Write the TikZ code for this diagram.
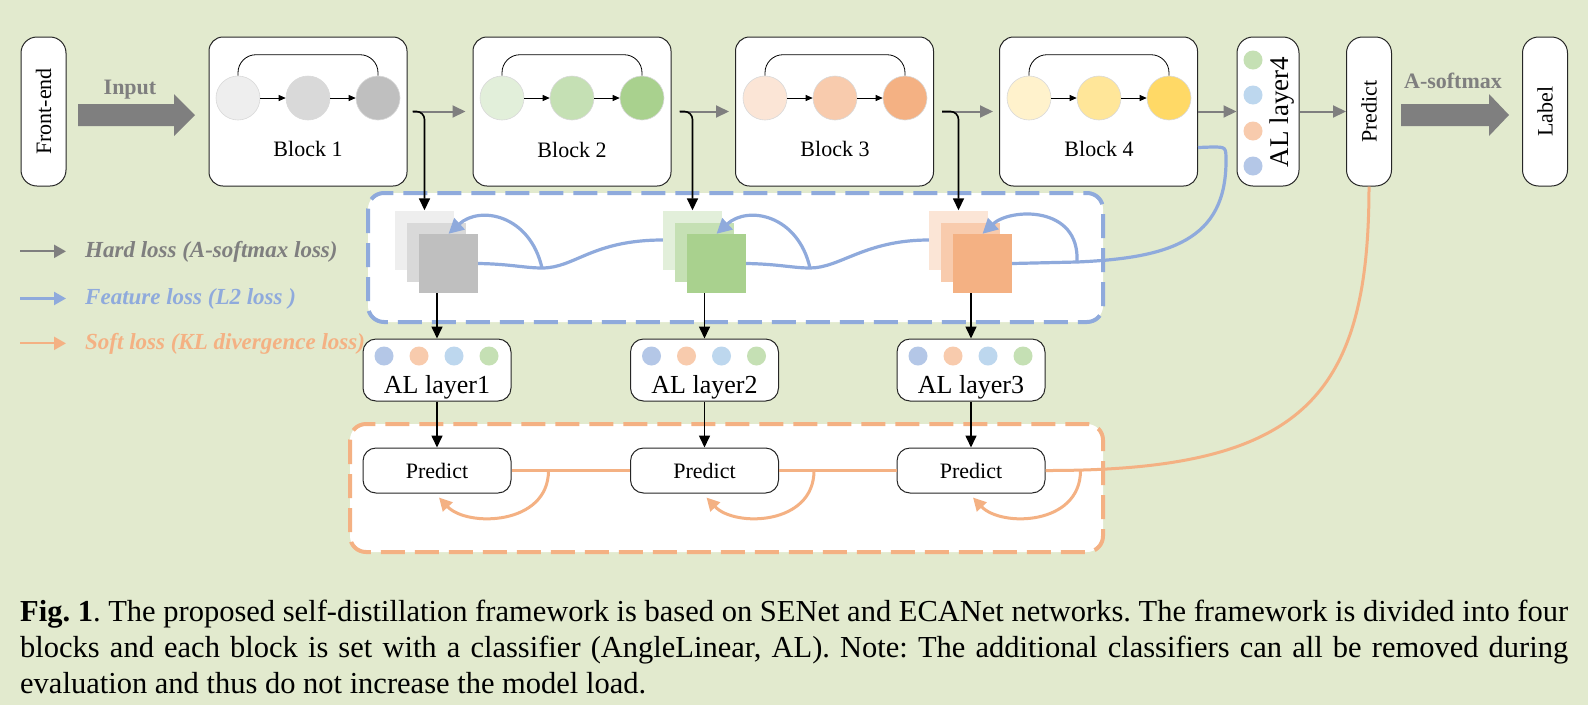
\documentclass[tikz,border=0pt]{standalone}
\usepackage{fontspec}
\usepackage{graphicx}
\setmainfont{Liberation Serif}
\usetikzlibrary{arrows.meta}

\definecolor{bggreen}{RGB}{226,234,206}
\definecolor{hardgrey}{RGB}{127,127,127}
\definecolor{featblue}{RGB}{143,170,220}
\definecolor{softorange}{RGB}{244,177,131}
\definecolor{greyA}{RGB}{238,238,238}
\definecolor{greyB}{RGB}{217,217,217}
\definecolor{greyC}{RGB}{191,191,191}
\definecolor{greenA}{RGB}{226,239,218}
\definecolor{greenB}{RGB}{197,224,180}
\definecolor{greenC}{RGB}{169,209,142}
\definecolor{orangeA}{RGB}{251,229,214}
\definecolor{orangeB}{RGB}{248,203,173}
\definecolor{orangeC}{RGB}{244,177,131}
\definecolor{goldA}{RGB}{255,242,204}
\definecolor{goldB}{RGB}{255,230,153}
\definecolor{goldC}{RGB}{255,217,102}
\definecolor{dotblue}{RGB}{180,199,231}
\definecolor{dotsky}{RGB}{189,215,238}

\begin{document}
\begin{tikzpicture}[x=1pt, y=-1pt,
		box/.style={draw=black!85, line width=1pt, fill=white, rounded corners=14pt, inner sep=0pt},
		blockbox/.style={box, minimum width=198pt, minimum height=149pt},
		tallbox/.style={box, rounded corners=16pt, minimum width=45pt, minimum height=149pt, font=\fontsize{22}{26}\selectfont},
		albox/.style={box, rounded corners=13pt, minimum width=148pt, minimum height=62pt},
		predbox/.style={box, rounded corners=13pt, minimum width=148pt, minimum height=45pt, font=\fontsize{22}{26}\selectfont},
		ball/.style={circle, draw=black!15, line width=0.6pt, minimum size=44pt, inner sep=0pt},
		aldot/.style={circle, minimum size=19pt, inner sep=0pt},
		feat/.style={minimum size=59pt, inner sep=0pt},
		txt/.style={font=\fontsize{22}{26}\selectfont, inner sep=0pt, anchor=base},
		bigtxt/.style={font=\fontsize{26}{30}\selectfont, inner sep=0pt, anchor=base},
		legtxt/.style={font=\fontsize{23}{27}\selectfont\bfseries\itshape, inner sep=0pt, anchor=base west},
		thinarr/.style={line width=0.8pt, -{Triangle[length=7pt,width=6pt]}},
		blackarr/.style={line width=1.6pt, -{Triangle[length=12pt,width=11pt]}},
		greyarr/.style={hardgrey, line width=2pt, -{Triangle[length=13pt,width=12pt]}},
		legarr/.style={line width=2.2pt, -{Triangle[length=12pt,width=13pt]}},
		featline/.style={featblue, line width=3.2pt},
		featarr/.style={featline, -{Triangle[length=15pt,width=15pt]}},
		softline/.style={softorange, line width=3pt},
		softarr/.style={softline, -{Triangle[length=13pt,width=13pt]}},
		lossbox/.style={line width=4pt, dash pattern=on 24pt off 10pt, rounded corners=16pt, fill=white}]
	\fill[bggreen] (0,0) rectangle (1588,705);
	\useasboundingbox (0,0) rectangle (1588,705);

	\draw[featblue, lossbox] (368,193) rectangle (1103,322);
	\draw[softorange, lossbox] (350,424) rectangle (1103,552);

	\node[tallbox] (fe) at (43.5,111.5) {\rotatebox{90}{Front-end}};
	\fill[hardgrey] (78,104) -- (174,104) -- (174,94) -- (195,115) -- (174,136) -- (174,126) -- (78,126) -- cycle;
	\node[txt, font=\fontsize{22}{26}\selectfont\bfseries, text=hardgrey] (input) at (130,94) {Input};

	\node[blockbox] (b1) at (308,111.5) {};
	\node[ball, fill=greyA] (b1c1) at (238,98) {};
	\node[ball, fill=greyB] (b1c2) at (308,98) {};
	\node[ball, fill=greyC] (b1c3) at (378,98) {};
	\draw[thinarr] (b1c1) -- (b1c2);
	\draw[thinarr] (b1c2) -- (b1c3);
	\draw[line width=0.8pt, rounded corners=18pt] (b1c1.north) -- ++(0,-21) -| (b1c3.north);
	\node[txt] (b1lab) at (308,156) {Block 1};

	\node[blockbox] (b2) at (572,111.5) {};
	\node[ball, fill=greenA] (b2c1) at (502,98) {};
	\node[ball, fill=greenB] (b2c2) at (572,98) {};
	\node[ball, fill=greenC] (b2c3) at (642,98) {};
	\draw[thinarr] (b2c1) -- (b2c2);
	\draw[thinarr] (b2c2) -- (b2c3);
	\draw[line width=0.8pt, rounded corners=18pt] (b2c1.north) -- ++(0,-21) -| (b2c3.north);
	\node[txt] (b2lab) at (572,157) {Block 2};

	\node[blockbox] (b3) at (834.5,111.5) {};
	\node[ball, fill=orangeA] (b3c1) at (765,98) {};
	\node[ball, fill=orangeB] (b3c2) at (835,98) {};
	\node[ball, fill=orangeC] (b3c3) at (905,98) {};
	\draw[thinarr] (b3c1) -- (b3c2);
	\draw[thinarr] (b3c2) -- (b3c3);
	\draw[line width=0.8pt, rounded corners=18pt] (b3c1.north) -- ++(0,-21) -| (b3c3.north);
	\node[txt] (b3lab) at (835,156) {Block 3};

	\node[blockbox] (b4) at (1098.5,111.5) {};
	\node[ball, fill=goldA] (b4c1) at (1029,98) {};
	\node[ball, fill=goldB] (b4c2) at (1099,98) {};
	\node[ball, fill=goldC] (b4c3) at (1169,98) {};
	\draw[thinarr] (b4c1) -- (b4c2);
	\draw[thinarr] (b4c2) -- (b4c3);
	\draw[line width=0.8pt, rounded corners=18pt] (b4c1.north) -- ++(0,-21) -| (b4c3.north);
	\node[txt] (b4lab) at (1099,156) {Block 4};

	\node[box, rounded corners=16pt, minimum width=62pt, minimum height=149pt] (al4) at (1268,111.5) {};
	\node[aldot, fill=greenB] (al4d1) at (1253,60) {};
	\node[aldot, fill=dotsky] (al4d2) at (1253,95) {};
	\node[aldot, fill=orangeB] (al4d3) at (1253,131) {};
	\node[aldot, fill=dotblue] (al4d4) at (1253,166) {};
	\node[font=\fontsize{27}{30}\selectfont, rotate=90, inner sep=0pt] (al4lab) at (1282,112) {AL layer4};

	\node[tallbox] (predtop) at (1369,111.5) {\rotatebox{90}{Predict}};
	\fill[hardgrey] (1401,104) -- (1489,104) -- (1489,94) -- (1509,115) -- (1489,136) -- (1489,126) -- (1401,126) -- cycle;
	\node[txt, font=\fontsize{22}{26}\selectfont\bfseries, text=hardgrey] (asoft) at (1453,88) {A-softmax};
	\node[tallbox] (label) at (1545,111.5) {\rotatebox{90}{Label}};

	\node[feat, fill=greyA] (f1back) at (424.5,240) {};
	\node[feat, fill=greyB] (f1mid) at (436.5,252.5) {};
	\node[feat, fill=greyC] (f1front) at (448.5,263.5) {};
	\node[feat, fill=greenA] (f2back) at (692.5,240) {};
	\node[feat, fill=greenB] (f2mid) at (704.5,252.5) {};
	\node[feat, fill=greenC] (f2front) at (716.5,263.5) {};
	\node[feat, fill=orangeA] (f3back) at (958.5,240) {};
	\node[feat, fill=orangeB] (f3mid) at (970.5,252.5) {};
	\node[feat, fill=orangeC] (f3front) at (982.5,263.5) {};

	\node[albox] (al1) at (437,370) {};
	\node[aldot, fill=dotblue] (al1d1) at (384,356) {};
	\node[aldot, fill=orangeB] (al1d2) at (419,356) {};
	\node[aldot, fill=dotsky] (al1d3) at (454,356) {};
	\node[aldot, fill=greenB] (al1d4) at (489,356) {};
	\node[bigtxt] (al1lab) at (437,393) {AL layer1};
	\node[albox] (al2) at (704.5,370) {};
	\node[aldot, fill=dotblue] (al2d1) at (651.5,356) {};
	\node[aldot, fill=orangeB] (al2d2) at (686.5,356) {};
	\node[aldot, fill=dotsky] (al2d3) at (721.5,356) {};
	\node[aldot, fill=greenB] (al2d4) at (756.5,356) {};
	\node[bigtxt] (al2lab) at (704.5,393) {AL layer2};
	\node[albox] (al3) at (971,370) {};
	\node[aldot, fill=dotblue] (al3d1) at (918,356) {};
	\node[aldot, fill=orangeB] (al3d2) at (953,356) {};
	\node[aldot, fill=dotsky] (al3d3) at (988,356) {};
	\node[aldot, fill=greenB] (al3d4) at (1023,356) {};
	\node[bigtxt] (al3lab) at (971,393) {AL layer3};

	\node[predbox] (pr1) at (437,470.5) {Predict};
	\node[predbox] (pr2) at (704.5,470.5) {Predict};
	\node[predbox] (pr3) at (971,470.5) {Predict};

	\coordinate (s1) at ([xshift=5pt]b1.east);
	\coordinate (s2) at ([xshift=8pt]b2.east);
	\coordinate (s3) at ([xshift=8pt]b3.east);
	\draw[greyarr] (s1) -- ([xshift=-7pt]b2.west);
	\draw[greyarr] (s2) -- ([xshift=-6pt]b3.west);
	\draw[greyarr] (s3) -- ([xshift=-6pt]b4.west);
	\draw[greyarr] (b4.east) -- (al4.west);
	\draw[greyarr] (al4) -- (predtop);
	\draw[blackarr, rounded corners=8pt] (s1) -| (f1back.north);
	\draw[blackarr, rounded corners=8pt] (s2) -| (f2back.north);
	\draw[blackarr, rounded corners=8pt] (s3) -| (f3back.north);
	\draw[blackarr] (f1front.south -| al1.north) -- (al1.north);
	\draw[blackarr] (f2front.south -| al2.north) -- (al2.north);
	\draw[blackarr] (f3front.south -| al3.north) -- (al3.north);
	\draw[blackarr] (al1) -- (pr1);
	\draw[blackarr] (al2) -- (pr2);
	\draw[blackarr] (al3) -- (pr3);

	\coordinate (k1) at (542,268);
	\coordinate (k2) at (810,268);
	\coordinate (k3) at (1077,262);
	\coordinate (b4out) at ([yshift=39pt]b4.south east);
	\draw[featline] (f1front.east) .. controls (510,264) and (525,268) .. (k1) .. controls (575,268) and (592,240) .. (f2back.west);
	\draw[featarr] (k1) .. controls (530,215) and (480,205) .. (f1front.north);
	\draw[featline] (f2front.east) .. controls (778,264) and (793,268) .. (k2) .. controls (840,268) and (865,240) .. (f3back.west);
	\draw[featarr] (k2) .. controls (798,215) and (748,205) .. (f2front.north);
	\draw[featline] (f3front.east) -- (k3);
	\draw[featarr] (k3) .. controls (1080,205) and (1010,208) .. (f3front.north);
	\draw[featline] (b4out) -- (1212,147) .. controls (1226,147) and (1226,147) .. (1226,161) .. controls (1226,240) and (1170,258) .. (k3);

	\coordinate (j1) at ([xshift=37pt]pr1.east);
	\coordinate (j2) at ([xshift=35pt]pr2.east);
	\coordinate (j3) at ([xshift=35pt]pr3.east);
	\draw[softline] (pr1) -- (pr2);
	\draw[softline] (pr2) -- (pr3);
	\draw[softarr] (j1) .. controls +(0,55) and +(28,30) .. ([xshift=2pt,yshift=-4pt]pr1.south);
	\draw[softarr] (j2) .. controls +(0,55) and +(28,30) .. ([xshift=2pt,yshift=-4pt]pr2.south);
	\draw[softarr] (j3) .. controls +(0,55) and +(28,30) .. ([xshift=2pt,yshift=-4pt]pr3.south);
	\draw[softline] (pr3.east) .. controls (1300,471) and (1369,400) .. (predtop.south);

	\node[legtxt, text=hardgrey] (hard) at (85,257) {Hard loss (A-softmax loss)};
	\node[legtxt, text=featblue] (featleg) at (85,304) {Feature loss (L2 loss )};
	\node[legtxt, text=softorange] (softleg) at (85,349) {Soft loss (KL divergence loss)};
	\draw[legarr, hardgrey] ([xshift=-65pt]hard.west) -- ([xshift=-19pt]hard.west);
	\draw[legarr, featblue] ([xshift=-65pt]featleg.west) -- ([xshift=-19pt]featleg.west);
	\draw[legarr, softorange] ([xshift=-65pt]softleg.west) -- ([xshift=-19pt]softleg.west);

	\node[anchor=base west, inner sep=0pt, text width=1548pt, align=justify, font=\fontsize{30.5}{36}\selectfont] (cap) at (20,621) {\frenchspacing\hyphenpenalty=10000\exhyphenpenalty=10000 \textbf{Fig. 1}. The proposed self-distillation framework is based on SENet and ECANet networks. The framework is divided into four\linebreak blocks and each block is set with a classifier (AngleLinear, AL). Note: The additional classifiers can all be removed during\linebreak evaluation and thus do not increase the model load.};
\end{tikzpicture}
\end{document}
